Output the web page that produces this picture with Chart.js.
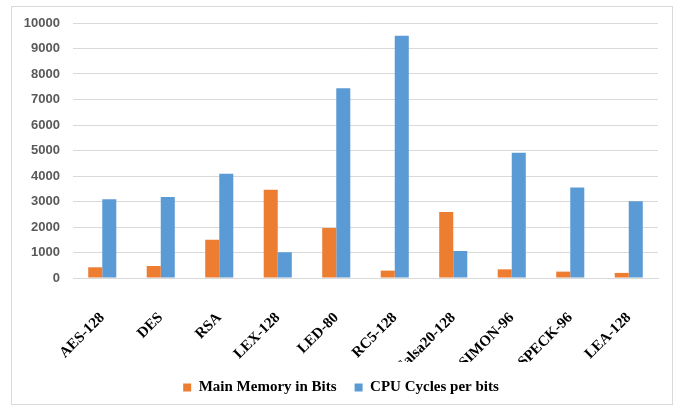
<!DOCTYPE html>
<html>
<head>
<meta charset="utf-8">
<script src="https://cdn.jsdelivr.net/npm/chart.js@4"></script>
<style>
html,body{margin:0;padding:0;background:#fff;}
#wrap{position:absolute;left:11px;top:6px;width:662px;height:399px;border:1px solid #d9d9d9;box-sizing:border-box;}
canvas{display:block;}
</style>
</head>
<body>
<div id="wrap"><canvas id="c"></canvas></div>
<script>
const categories = ["AES-128","DES","RSA","LEX-128","LED-80","RC5-128","Salsa20-128","SIMON-96","SPECK-96","LEA-128"];
const memoryBits = [420, 470, 1500, 3460, 1960, 290, 2590, 340, 250, 200];
const cpuCycles = [3090, 3180, 4090, 1010, 7440, 9500, 1060, 4910, 3550, 3010];
const yTicks = {min:0, max:10000, step:1000};

new Chart(document.getElementById('c'), {
  type: 'bar',
  data: {
    labels: categories,
    datasets: [
      {label:'Main Memory in Bits', data: memoryBits, backgroundColor:'#ED7D31', categoryPercentage:0.48, barPercentage:1.0},
      {label:'CPU Cycles per bits', data: cpuCycles, backgroundColor:'#5B9BD5', categoryPercentage:0.48, barPercentage:1.0}
    ]
  },
  options: {
    responsive: true,
    maintainAspectRatio: false,
    animation: false,
    layout: {padding: {left: 12, right: 14, top: 16, bottom: -1}},
    plugins: {
      legend: {
        position: 'bottom',
        labels: {boxWidth: 8, boxHeight: 8, padding: 18, color:'#000000',
          font: {family: '"Liberation Serif", serif', weight: 'bold', size: 15}}
      },
      tooltip: {enabled:false}
    },
    scales: {
      x: {
        grid: {display: false},
        border: {display: true, color: '#d9d9d9'},
        afterFit: s => { s.height = 84; s.paddingLeft = 0; s.paddingRight = 0; },
        ticks: {maxRotation: 45, minRotation: 45, color: '#000000', padding: 23,
          font: {family: '"Liberation Serif", serif', weight: 'bold', size: 15}}
      },
      y: {
        min: yTicks.min, max: yTicks.max,
        afterFit: s => { s.width = 49; s.paddingTop = 0; s.paddingBottom = 0; },
        grid: {color: '#d9d9d9', drawTicks: false},
        border: {display: false},
        ticks: {stepSize: yTicks.step, color: '#595959', padding: 13,
          callback: v => String(v),
          font: {family: '"Liberation Sans", Arial, sans-serif', weight: 'bold', size: 13}}
      }
    }
  }
});
</script>
</body>
</html>
